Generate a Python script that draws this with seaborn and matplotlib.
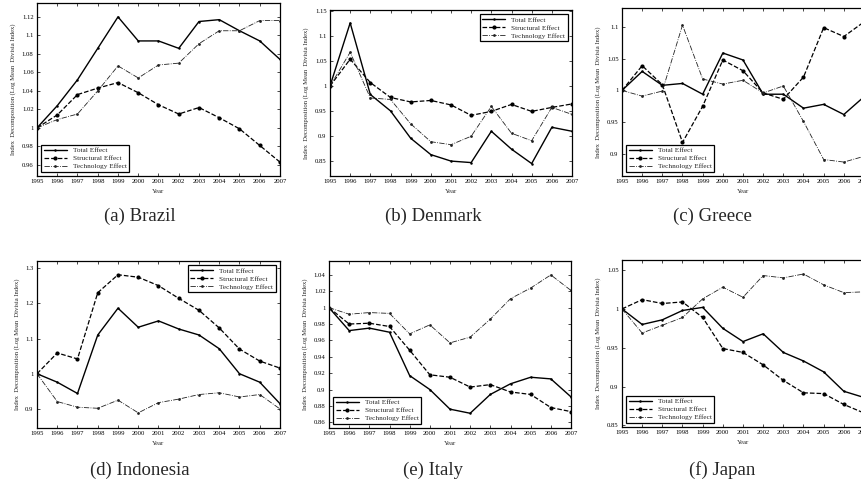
import matplotlib
matplotlib.use("Agg")
import matplotlib.pyplot as plt
from matplotlib.ticker import FuncFormatter
import pandas as pd
import seaborn as sns

years = list(range(1995, 2008))

# Brazil
brazil_total = [1.0, 1.024, 1.052, 1.086, 1.120, 1.094, 1.094, 1.086, 1.115, 1.117, 1.105, 1.094, 1.074]
brazil_struct = [1.0, 1.014, 1.036, 1.043, 1.049, 1.038, 1.025, 1.015, 1.022, 1.011, 0.999, 0.981, 0.963]
brazil_tech = [1.0, 1.009, 1.015, 1.040, 1.067, 1.054, 1.068, 1.070, 1.091, 1.105, 1.105, 1.116, 1.116]

# Denmark
denmark_total = [1.0, 1.127, 0.983, 0.950, 0.895, 0.862, 0.849, 0.846, 0.909, 0.873, 0.844, 0.917, 0.909]
denmark_struct = [1.0, 1.054, 1.007, 0.977, 0.968, 0.971, 0.962, 0.941, 0.949, 0.963, 0.949, 0.957, 0.964]
denmark_tech = [1.0, 1.068, 0.976, 0.973, 0.924, 0.888, 0.882, 0.899, 0.959, 0.905, 0.890, 0.957, 0.943]

# Greece
greece_total = [1.0, 1.030, 1.008, 1.011, 0.994, 1.059, 1.048, 0.994, 0.994, 0.972, 0.978, 0.962, 0.990]
greece_struct = [1.0, 1.039, 1.009, 0.918, 0.975, 1.048, 1.031, 0.996, 0.986, 1.021, 1.099, 1.085, 1.108]
greece_tech = [1.0, 0.991, 0.999, 1.103, 1.018, 1.010, 1.016, 0.996, 1.007, 0.951, 0.891, 0.887, 0.896]

# Indonesia
indonesia_total = [1.0, 0.976, 0.944, 1.110, 1.186, 1.132, 1.150, 1.127, 1.110, 1.071, 1.0, 0.976, 0.915]
indonesia_struct = [1.0, 1.059, 1.042, 1.230, 1.281, 1.274, 1.250, 1.214, 1.180, 1.130, 1.070, 1.036, 1.016]
indonesia_tech = [1.0, 0.921, 0.905, 0.902, 0.925, 0.889, 0.918, 0.928, 0.941, 0.946, 0.934, 0.941, 0.900]

# Italy
italy_total = [1.0, 0.972, 0.975, 0.970, 0.917, 0.900, 0.876, 0.871, 0.894, 0.907, 0.915, 0.913, 0.891]
italy_struct = [1.0, 0.980, 0.981, 0.977, 0.948, 0.918, 0.915, 0.903, 0.906, 0.897, 0.894, 0.878, 0.873]
italy_tech = [1.0, 0.992, 0.994, 0.993, 0.968, 0.979, 0.957, 0.964, 0.986, 1.011, 1.024, 1.040, 1.021]

# Japan
japan_total = [1.0, 0.980, 0.986, 0.998, 1.002, 0.975, 0.958, 0.968, 0.944, 0.933, 0.919, 0.894, 0.886]
japan_struct = [1.0, 1.012, 1.007, 1.009, 0.989, 0.949, 0.944, 0.928, 0.908, 0.892, 0.891, 0.877, 0.866]
japan_tech = [1.0, 0.969, 0.979, 0.989, 1.013, 1.028, 1.015, 1.043, 1.040, 1.045, 1.031, 1.021, 1.022]

captions = ["(a) Brazil", "(b) Denmark", "(c) Greece", "(d) Indonesia", "(e) Italy", "(f) Japan"]
series = [
    (brazil_total, brazil_struct, brazil_tech),
    (denmark_total, denmark_struct, denmark_tech),
    (greece_total, greece_struct, greece_tech),
    (indonesia_total, indonesia_struct, indonesia_tech),
    (italy_total, italy_struct, italy_tech),
    (japan_total, japan_struct, japan_tech),
]
yticks = [
    [0.96, 0.98, 1.0, 1.02, 1.04, 1.06, 1.08, 1.1, 1.12],
    [0.85, 0.9, 0.95, 1.0, 1.05, 1.1, 1.15],
    [0.9, 0.95, 1.0, 1.05, 1.1],
    [0.9, 1.0, 1.1, 1.2, 1.3],
    [0.86, 0.88, 0.9, 0.92, 0.94, 0.96, 0.98, 1.0, 1.02, 1.04],
    [0.85, 0.9, 0.95, 1.0, 1.05],
]
ylims = [(0.948, 1.135), (0.819, 1.153), (0.865, 1.13), (0.846, 1.32), (0.853, 1.057), (0.848, 1.063)]
legend_locs = ["lower left", "upper right", "lower left", "upper right", "lower left", "lower left"]

# axes boxes in pixels: left, top, right, bottom
W, H = 862, 483
boxes = [
    (37, 3, 280, 176), (330, 10, 572, 176), (622, 8, 864, 176),
    (37, 261, 280, 428), (329, 261, 571, 428), (622, 260, 864, 427),
]
caption_pos = [(140, 216), (433, 216), (712, 216), (140, 470), (433, 470), (722, 470)]

sns.set_theme(style="ticks")
plt.rcParams['font.family'] = ['Liberation Serif', 'DejaVu Serif']

fig = plt.figure(figsize=(W / 100, H / 100), dpi=100)

fmt = FuncFormatter(lambda v, p: f"{round(v, 4):g}")

for i, (total, struct, tech) in enumerate(series):
    l, t, r, b = boxes[i]
    ax = fig.add_axes([l / W, 1 - b / H, (r - l) / W, (b - t) / H])
    df = pd.DataFrame({"Year": years, "Total": total, "Structural": struct, "Technology": tech})
    sns.lineplot(data=df, x="Year", y="Total", ax=ax, color="black", linestyle="-",
                 linewidth=1.0, marker="o", markersize=1.8, markeredgewidth=0,
                 label="Total Effect")
    sns.lineplot(data=df, x="Year", y="Structural", ax=ax, color="black", linestyle="--",
                 linewidth=0.9, marker="o", markersize=3.0, markeredgewidth=0,
                 dashes=(2.5, 1.5), label="Structural Effect")
    sns.lineplot(data=df, x="Year", y="Technology", ax=ax, color="#222222", linestyle="-.",
                 linewidth=0.6, marker="o", markersize=2.0, markeredgewidth=0,
                 dashes=(3, 1.5, 1, 1.5), label="Technology Effect")
    ax.set_xlim(1995, 2007)
    ax.set_ylim(*ylims[i])
    ax.set_xticks(years)
    ax.set_yticks(yticks[i])
    ax.yaxis.set_major_formatter(fmt)
    ax.tick_params(direction="in", top=True, right=True, labelsize=4.8,
                   length=2.5, width=0.5, pad=2.5, colors="black")
    for s in ax.spines.values():
        s.set_linewidth(0.9)
        s.set_color("black")
    ax.set_xlabel("Year", fontsize=4.8, labelpad=3.5)
    ax.set_ylabel("Index  Decomposition (Log Mean  Divisia Index)", fontsize=4.8, labelpad=4)
    leg = ax.legend(loc=legend_locs[i], fontsize=5.2, frameon=True, fancybox=False,
                    edgecolor="black", framealpha=1, handlelength=3.2,
                    borderaxespad=0.6, labelspacing=0.25, borderpad=0.35,
                    handletextpad=0.8)
    leg.get_frame().set_linewidth(0.9)
    cx, cy = caption_pos[i]
    fig.text(cx / W, 1 - cy / H, captions[i], ha="center", va="center", fontsize=13.5)

fig.savefig("out.png", dpi=100)
